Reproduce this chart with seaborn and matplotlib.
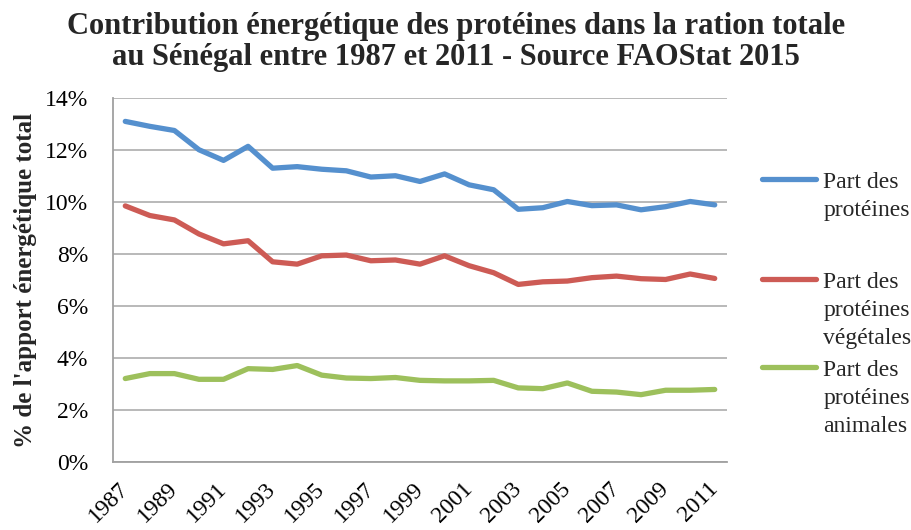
import matplotlib
matplotlib.use("Agg")
import matplotlib.pyplot as plt
import seaborn as sns
import pandas as pd
from matplotlib.lines import Line2D

years = list(range(1987, 2012))
part_proteines = [13.10, 12.91, 12.75, 12.01, 11.60, 12.14, 11.30, 11.36, 11.26, 11.20,
                  10.96, 11.01, 10.79, 11.08, 10.66, 10.47, 9.72, 9.78, 10.02, 9.86,
                  9.89, 9.70, 9.82, 10.02, 9.89]
part_vegetales = [9.85, 9.48, 9.31, 8.77, 8.39, 8.51, 7.70, 7.61, 7.93, 7.96,
                  7.74, 7.77, 7.61, 7.93, 7.55, 7.28, 6.83, 6.93, 6.96, 7.09,
                  7.15, 7.05, 7.02, 7.23, 7.06]
part_animales = [3.21, 3.40, 3.40, 3.18, 3.18, 3.59, 3.56, 3.71, 3.34, 3.23,
                 3.21, 3.25, 3.14, 3.12, 3.12, 3.14, 2.85, 2.82, 3.04, 2.72,
                 2.69, 2.59, 2.76, 2.76, 2.79]
series_names = ["Part des protéines", "Part des protéines végétales", "Part des protéines animales"]
legend_lines = [["Part des", "protéines"],
                ["Part des", "protéines", "végétales"],
                ["Part des", "protéines", "animales"]]
y_ticks = [0, 2, 4, 6, 8, 10, 12, 14]
x_ticks = years[::2]
title = "Contribution énergétique des protéines dans la ration totale\nau Sénégal entre 1987 et 2011 - Source FAOStat 2015"
y_label = "% de l'apport énergétique total"

colors = ["#5590CE", "#CD5B55", "#9DC05C"]

df = pd.DataFrame({
    "year": years * 3,
    "value": part_proteines + part_vegetales + part_animales,
    "series": [series_names[0]] * 25 + [series_names[1]] * 25 + [series_names[2]] * 25,
})

sns.set_theme(style="white")
plt.rcParams["font.family"] = ["Liberation Serif", "DejaVu Serif"]

fig = plt.figure(figsize=(9.12, 5.30), dpi=100)
ax = fig.add_axes([113 / 912, 1 - 462 / 530, (727 - 113) / 912, (462 - 98) / 530])

sns.lineplot(data=df, x="year", y="value", hue="series", palette=colors, ax=ax,
             linewidth=3.8, legend=False, solid_capstyle="round", solid_joinstyle="round")

ax.set_xlim(1986.5, 2011.5)
ax.set_ylim(0, 14)
ax.set_yticks(y_ticks)
ax.set_yticklabels([f"{v}%" for v in y_ticks])
ax.set_xticks(x_ticks)
ax.set_xticklabels([str(y) for y in x_ticks], rotation=45, ha="right", va="center",
                   rotation_mode="anchor")
ax.tick_params(axis="y", length=0, pad=18, labelsize=17, colors="black")
ax.tick_params(axis="x", length=0, pad=17, labelsize=17, colors="black")
ax.set_xlabel("")
ax.set_ylabel(y_label, fontsize=18, fontweight="bold")
ax.yaxis.set_label_coords(-0.124, 0.5)

ax.grid(axis="y", color="#A6A6A6", linewidth=1.1)
ax.grid(axis="x", visible=False)
for side in ["top", "right"]:
    ax.spines[side].set_visible(False)
for side in ["left", "bottom"]:
    ax.spines[side].set_color("#A0A0A0")
    ax.spines[side].set_linewidth(1.3)

fig.text(0.5, 0.978, title, ha="center", va="top", fontsize=22, fontweight="bold",
         linespacing=1.12)

# legend: three blocks, handle aligned with first line
legend_tops = [1 - 171 / 530, 1 - 271 / 530, 1 - 359 / 530]
for i, lines in enumerate(legend_lines):
    handles = [Line2D([], [], color=colors[i], linewidth=3.8, solid_capstyle="round")]
    handles += [Line2D([], [], color="none")] * (len(lines) - 1)
    leg = fig.legend(handles, lines, loc="upper left",
                     bbox_to_anchor=(762 / 912, legend_tops[i]), frameon=False,
                     fontsize=17, handlelength=2.3, handletextpad=0.3,
                     labelspacing=0.29, borderpad=0, borderaxespad=0)

fig.savefig("out.png", dpi=100)
